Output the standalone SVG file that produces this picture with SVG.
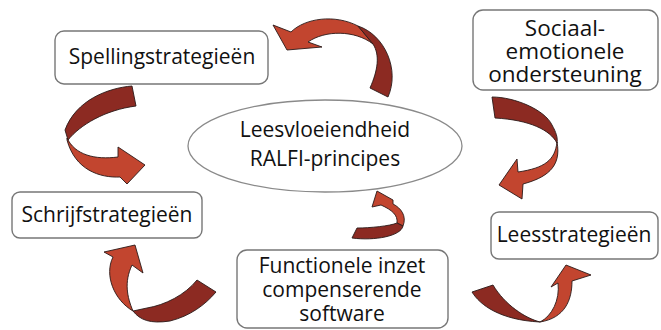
<svg xmlns="http://www.w3.org/2000/svg" width="661" height="330" viewBox="0 0 661 330">
<style>
.box{fill:#fff;stroke:#777;stroke-width:1.4}
.ell{fill:#fff;stroke:#8a8a8a;stroke-width:1.3}
.t{font-family:"Open Sans","Noto Sans",sans-serif;font-size:21px;fill:#111;text-anchor:middle}
.big{font-size:22.5px}
.dk{fill:#8c2a22;stroke:#2a1a18;stroke-width:0.9;stroke-linejoin:round}
.lt{fill:#c2452f;stroke:#2a1a18;stroke-width:0.9;stroke-linejoin:round}
</style>
<rect width="661" height="330" fill="#fff"/>
<g id="connectors">
  <g id="arrow1">
    <path class="lt" d="M273,25 L291,32 C305,18 335,14 358,26 L373,44 C355,30 325,30 308,42 L322,47 L287,50 Z"/>
    <path class="dk" d="M358,26 C385,35 400,70 388,97 L370,88 C378,70 380,55 373,44 Z"/>
  </g>
  <g id="arrow2">
    <path class="dk" d="M132,86 C108,88 76,100 65,130 L68,140 C80,125 105,110 136,106 Z"/>
    <path class="lt" d="M67,138 C75,155 95,160 118,157 L118,147 L145,165 L127,184 L120,177 C100,178 75,170 67,140 Z"/>
  </g>
  <g id="arrow3">
    <path class="lt" d="M135,245 L104,252 L113,257 C104,275 114,300 133,311 C127,297 124,282 132,265 L143,273 Z"/>
    <path class="dk" d="M133,311 C140,320 150,324 170,321 C190,316 205,305 216,292 L197,280 C185,295 165,305 147,308 Z"/>
  </g>
  <g id="arrow4">
    <path class="lt" d="M377,191 L372,207 L381,205 C392,210 398,215 397,223 L403,226 C407,216 401,208 393,204 L393,200 Z"/>
    <path class="dk" d="M397,223 C390,226 370,228 357,228 L352,238 C375,241 401,236 403,226 Z"/>
  </g>
  <g id="arrow5">
    <path class="dk" d="M492,97 C515,97 545,110 552,125 C556,132 558,138 557,143 C550,130 530,120 495,118 Z"/>
    <path class="lt" d="M557,142 C555,160 545,168 518,172 L517,159 L499,185 L522,199 L523,184 C545,178 562,168 557,142 Z"/>
  </g>
  <g id="arrow6">
    <path class="dk" d="M472,292 C480,305 500,320 540,322 C525,318 505,305 493,285 Z"/>
    <path class="lt" d="M540,322 C552,316 560,300 558,283 L551,287 L566,265 L591,275 L572,281 C572,300 565,318 540,322 Z"/>
  </g>
</g>
<g id="n-spelling">
  <rect class="box" x="55" y="31" width="213" height="53" rx="9"/>
  <text class="t" x="162" y="64">Spellingstrategieën</text>
</g>
<g id="n-sociaal">
  <rect class="box" x="473" y="10" width="185" height="80" rx="10"/>
  <text class="t big" x="565" y="36">Sociaal-</text>
  <text class="t big" x="565" y="59">emotionele</text>
  <text class="t big" x="565" y="82">ondersteuning</text>
</g>
<g id="n-leesvloeiendheid">
  <ellipse class="ell" cx="325" cy="146" rx="137" ry="46"/>
  <text class="t" x="325" y="137">Leesvloeiendheid</text>
  <text class="t" x="325" y="166">RALFI-principes</text>
</g>
<g id="n-schrijf">
  <rect class="box" x="12" y="192" width="190" height="46" rx="8"/>
  <text class="t" x="107" y="222">Schrijfstrategieën</text>
</g>
<g id="n-functioneel">
  <rect class="box" x="237" y="250" width="211" height="78" rx="10"/>
  <text class="t" x="342" y="273">Functionele inzet</text>
  <text class="t" x="342" y="297">compenserende</text>
  <text class="t" x="342" y="321">software</text>
</g>
<g id="n-lees">
  <rect class="box" x="491" y="212" width="167" height="47" rx="8"/>
  <text class="t" x="574" y="242">Leesstrategieën</text>
</g>
</svg>
